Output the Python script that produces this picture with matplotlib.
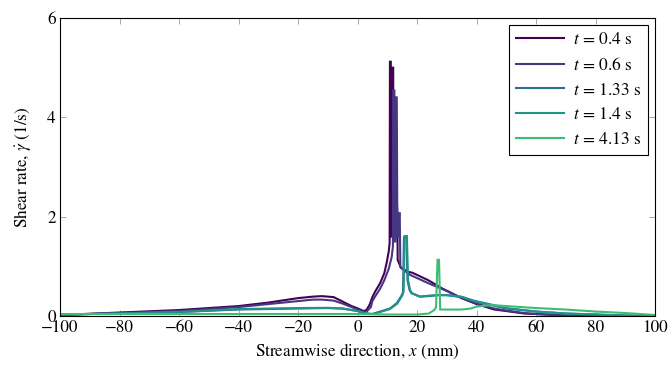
import matplotlib
matplotlib.use("Agg")
import matplotlib.pyplot as plt
import numpy as np

plt.rcParams['font.family'] = ['STIXGeneral', 'DejaVu Serif']
plt.rcParams['mathtext.fontset'] = 'stix'

labels = [r'$t$ = 0.4 s', r'$t$ = 0.6 s', r'$t$ = 1.33 s', r'$t$ = 1.4 s', r'$t$ = 4.13 s']
colors = ['#440154', '#453781', '#2d6f8e', '#22928b', '#3dbc74']

# t = 0.4 s
x_04 = [-100, -80, -60, -40, -30, -20, -15, -12, -8, -5, -2, 0, 2, 3, 4, 4.3, 5, 6, 7.6, 9, 9.8, 10.5, 10.8,
        10.9, 11.2, 11.3, 11.6, 11.7, 12.0, 12.1, 12.5, 13.0, 13.1, 13.4, 13.5, 14.6, 17, 18.5, 23.8, 28.3,
        35, 40, 46, 50, 56, 60, 70, 80, 100]
y_04 = [0.02, 0.07, 0.12, 0.20, 0.27, 0.36, 0.39, 0.40, 0.38, 0.29, 0.20, 0.155, 0.10, 0.12, 0.22, 0.26, 0.38, 0.5, 0.66, 0.86, 1.07, 1.3, 1.47,
        5.12, 5.12, 1.6, 1.6, 5.0, 5.0, 1.7, 1.7, 2.5, 2.5, 2.07, 1.13, 0.97, 0.89, 0.87, 0.72, 0.56,
        0.36, 0.24, 0.13, 0.10, 0.05, 0.04, 0.01, 0.0, 0.0]

# t = 0.6 s
x_06 = [-100, -80, -60, -40, -30, -20, -15, -12, -8, -5, -2, 0, 2, 3.1, 4.5, 5, 6, 7.6, 9, 10.5, 11.5, 11.9,
        12.0, 12.4, 12.5, 12.8, 12.9, 13.2, 13.4, 13.6, 14.0, 14.2, 14.4, 15, 17.6, 23.8, 29.4, 35, 40, 46,
        50, 56, 60, 70, 80, 100]
y_06 = [0.02, 0.06, 0.10, 0.18, 0.24, 0.30, 0.33, 0.33, 0.31, 0.25, 0.18, 0.13, 0.08, 0.09, 0.18, 0.30, 0.40, 0.55, 0.72, 0.95, 1.19, 1.4,
        4.54, 4.54, 1.5, 1.5, 4.4, 4.4, 1.6, 1.6, 2.07, 2.07, 0.99, 0.95, 0.83, 0.66, 0.52, 0.36, 0.25, 0.15,
        0.11, 0.06, 0.04, 0.01, 0.0, 0.0]

# t = 1.33 s
x_133 = [-100, -80, -60, -40, -20, -10, -5, 0, 3, 5, 7.6, 10.9, 13.2, 14.9, 15.3, 15.6, 16.4, 16.8, 17.5, 18.1,
         21, 24, 27, 30, 35, 39, 45, 50, 60, 70, 80, 90, 100]
y_133 = [0.03, 0.05, 0.08, 0.13, 0.15, 0.16, 0.15, 0.10, 0.05, 0.04, 0.09, 0.15, 0.26, 0.42, 0.49, 1.58, 1.58, 0.72, 0.52, 0.46,
         0.39, 0.40, 0.42, 0.42, 0.38, 0.30, 0.22, 0.15, 0.09, 0.05, 0.03, 0.01, 0.0]

# t = 1.4 s
x_14 = [-100, -80, -60, -40, -20, -10, -5, 0, 3, 5, 7.6, 10.9, 13.4, 15.1, 15.5, 15.8, 16.6, 17.0, 17.7, 18.3,
        21, 24, 27, 30, 35, 39, 45, 50, 60, 70, 80, 90, 100]
y_14 = [0.03, 0.05, 0.08, 0.14, 0.16, 0.165, 0.15, 0.10, 0.05, 0.04, 0.08, 0.14, 0.25, 0.42, 0.49, 1.61, 1.61, 0.72, 0.52, 0.46,
        0.39, 0.41, 0.42, 0.42, 0.39, 0.31, 0.23, 0.16, 0.09, 0.05, 0.03, 0.01, 0.0]

# t = 4.13 s
x_413 = [-100, -80, -60, -40, -20, 0, 10, 20, 24, 25.8, 26.4, 26.9, 27.4, 27.8, 30, 35, 38, 40, 45, 50, 60,
         70, 80, 90, 100]
y_413 = [0.04, 0.04, 0.04, 0.04, 0.04, 0.04, 0.03, 0.03, 0.05, 0.12, 0.18, 1.13, 1.13, 0.13, 0.13, 0.13, 0.15, 0.19, 0.22, 0.20, 0.16,
         0.13, 0.09, 0.06, 0.02]

series_x = [x_04, x_06, x_133, x_14, x_413]
series_y = [y_04, y_06, y_133, y_14, y_413]

fig = plt.figure(figsize=(6.7, 3.67), dpi=100)
ax = fig.add_axes([60/670, 1 - 316/367, 595/670, 298/367])

for xs, ys, c, lab in zip(series_x, series_y, colors, labels):
    ax.plot(xs, ys, color=c, lw=1.5, label=lab, solid_joinstyle='miter')

ax.set_xlim(-100, 100)
ax.set_ylim(0, 6)
ax.set_xticks(np.arange(-100, 101, 20))
ax.set_yticks([0, 2, 4, 6])
ax.set_xticklabels([('\u2212' + str(abs(v))) if v < 0 else str(v) for v in range(-100, 101, 20)])
ax.tick_params(direction='in', top=True, right=True, length=4, width=0.6, color='#999999',
               labelsize=12.3, pad=3)
for s in ax.spines.values():
    s.set_linewidth(0.8)
    s.set_color('black')

ax.set_xlabel(r'Streamwise direction, $x$ (mm)', fontsize=12.3, labelpad=4)
ax.set_ylabel(r'Shear rate, $\dot{\gamma}$ (1/s)', fontsize=12.3, labelpad=10)

leg = ax.legend(loc='upper right', fontsize=12.5, frameon=True, fancybox=False, edgecolor='black',
                framealpha=1, handlelength=2.8, handletextpad=0.5, borderpad=0.4, labelspacing=0.5,
                borderaxespad=0.4)
leg.get_frame().set_linewidth(0.8)

fig.savefig('out.png', dpi=100)
